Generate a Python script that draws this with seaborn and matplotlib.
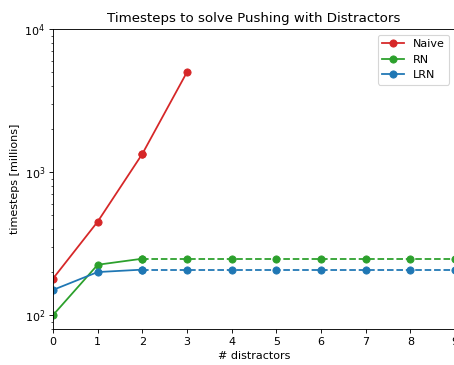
import matplotlib
matplotlib.use("Agg")
import matplotlib.pyplot as plt
import seaborn as sns
import pandas as pd

distractors = [0, 1, 2, 3, 4, 5, 6, 7, 8, 9]
naive = [180, 450, 1340, 5000]
rn = [100, 225, 248, 248, 248, 248, 248, 248, 248, 248]
lrn = [150, 200, 208, 208, 208, 208, 208, 208, 208, 208]

series = [("Naive", naive, "tab:red"), ("RN", rn, "tab:green"), ("LRN", lrn, "tab:blue")]
measured_upto = 2  # runs beyond this count are extrapolated (drawn dashed)

DPI = 80
fig = plt.figure(figsize=(454 / DPI, 365 / DPI), dpi=DPI)
ax = fig.add_axes([53 / 454, 36 / 365, 402 / 454, 300 / 365])

for name, vals, color in series:
    df = pd.DataFrame({"x": distractors[:len(vals)], "y": vals})
    solid = df[df["x"] <= measured_upto]
    sns.lineplot(data=solid, x="x", y="y", ax=ax, color=color, marker="o",
                 markersize=6.5, markeredgecolor=color, label=name, linewidth=1.6)
    rest = df[df["x"] >= measured_upto]
    if len(rest) > 1:
        style = "-" if name == "Naive" else "--"
        sns.lineplot(data=rest, x="x", y="y", ax=ax, color=color, marker="o",
                     markersize=6.5, markeredgecolor=color, linestyle=style,
                     linewidth=1.6, legend=False)

ax.set_yscale("log")
ax.set_ylim(80, 10000)
ax.set_xlim(0, 9)
ax.set_xticks(distractors)
ax.set_xlabel("# distractors")
ax.set_ylabel("timesteps [millions]")
ax.set_title("Timesteps to solve Pushing with Distractors")
ax.legend(loc="upper right")

fig.savefig("out.png", dpi=DPI)
